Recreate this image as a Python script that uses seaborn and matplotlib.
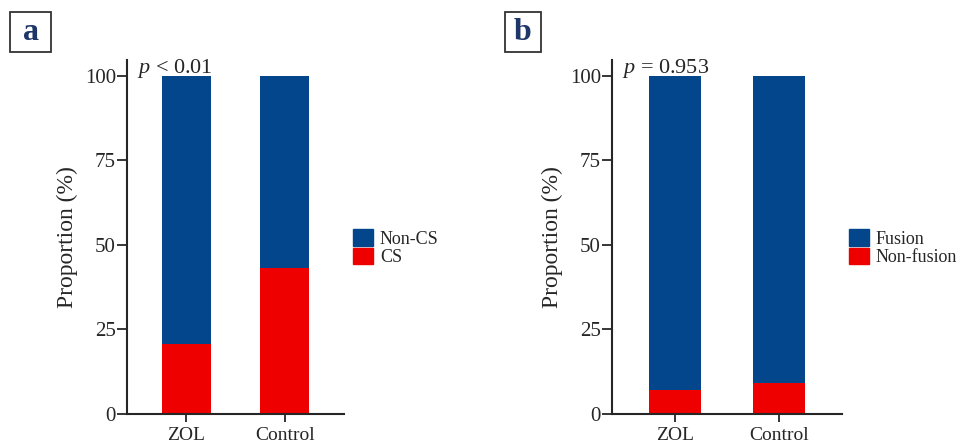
import matplotlib
matplotlib.use('Agg')
import matplotlib.pyplot as plt
from matplotlib.patches import Rectangle, Patch
import pandas as pd
import seaborn as sns

groups = ['ZOL', 'Control']
# panel a
cs_pct = [20.8, 43.2]
non_cs_pct = [79.2, 56.8]
# panel b
nonfusion_pct = [7.1, 9.2]
fusion_pct = [92.9, 90.8]

blue = '#03468C'
red = '#EE0000'
navy = '#1F3668'

sns.set_style('ticks')
plt.rcParams['font.family'] = ['Liberation Serif', 'DejaVu Serif']
plt.rcParams['axes.linewidth'] = 1.5
plt.rcParams['mathtext.fontset'] = 'custom'
plt.rcParams['mathtext.it'] = 'Liberation Serif:italic'

fig = plt.figure(figsize=(9.6, 4.46), dpi=100)
ax_a = fig.add_axes([127/960, 1-414/446, 217/960, 354/446])
ax_b = fig.add_axes([612/960, 1-414/446, 230/960, 354/446])


def stacked(ax, low, high, labels, ptext, px, lx):
    df = pd.DataFrame({'group': groups, 'low': low, 'high': high})
    df['total'] = df['low'] + df['high']
    sns.barplot(data=df, x='group', y='total', color=blue, width=0.5,
                saturation=1, linewidth=0, ax=ax)
    sns.barplot(data=df, x='group', y='low', color=red, width=0.5,
                saturation=1, linewidth=0, ax=ax)
    ax.set_xlim(-0.6, 1.6)
    ax.set_ylim(0, 104.7)
    ax.set_yticks([0, 25, 50, 75, 100])
    ax.set_xlabel('')
    ax.set_ylabel('Proportion (%)', fontsize=17, labelpad=5)
    ax.tick_params(axis='y', labelsize=15, length=7, width=1.3, pad=1)
    ax.tick_params(axis='x', labelsize=14, length=6, width=1.3, pad=3)
    sns.despine(ax=ax)
    ax.text(px, 0.963, ptext, transform=ax.transAxes, fontsize=16,
            va='baseline', ha='left')
    handles = [Patch(color=blue, label=labels[0]), Patch(color=red, label=labels[1])]
    ax.legend(handles=handles, loc='center left', bbox_to_anchor=(lx, 0.47),
              frameon=False, fontsize=13, handlelength=1.1, handleheight=1.05,
              labelspacing=0, handletextpad=0.4, borderpad=0, borderaxespad=0)


stacked(ax_a, cs_pct, non_cs_pct, ['Non-CS', 'CS'], r'$p$ < 0.01', 0.045, 1.04)
stacked(ax_b, nonfusion_pct, fusion_pct, ['Fusion', 'Non-fusion'], r'$p$ = 0.953', 0.042, 1.03)

for x0, letter in [(10, 'a'), (505, 'b')]:
    fig.add_artist(Rectangle((x0/960, 1-52/446), 36/960 if letter == 'b' else 41/960, 40/446,
                             transform=fig.transFigure, fill=False,
                             edgecolor='#333333', linewidth=1.3))
    fig.text((x0 + (18 if letter == 'b' else 20.5))/960, 1-32/446, letter,
             fontsize=23, fontweight='bold', color=navy, ha='center', va='center')

fig.savefig('out.png', dpi=100)
